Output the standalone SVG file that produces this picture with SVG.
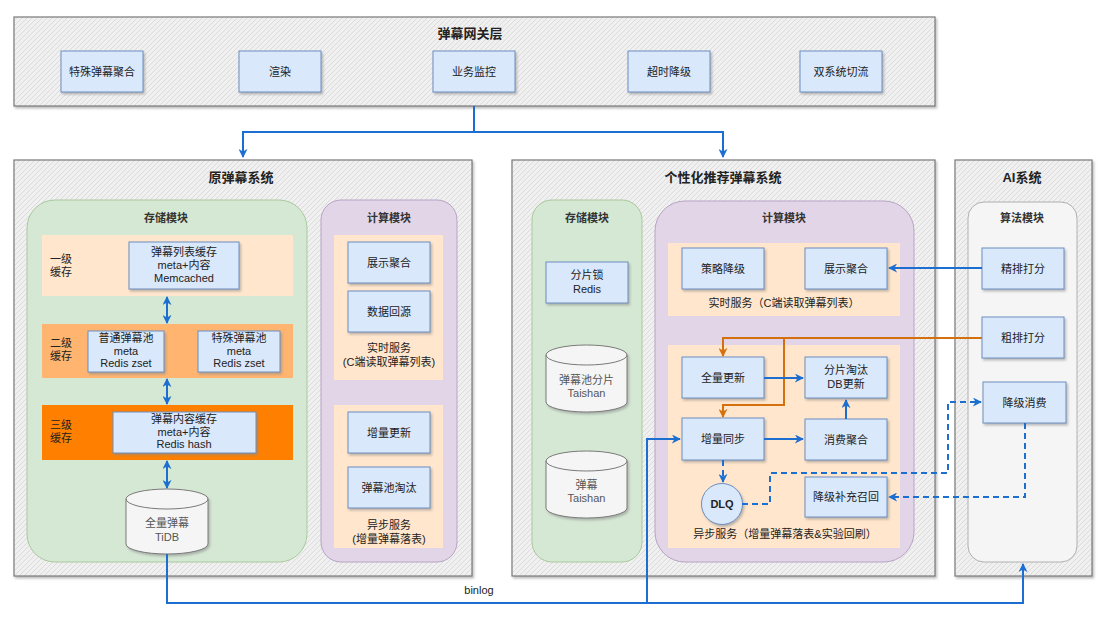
<svg xmlns="http://www.w3.org/2000/svg" width="1116" height="635" viewBox="0 0 1116 635">
<defs>
<pattern id="hatch" patternUnits="userSpaceOnUse" width="5" height="5">
<rect width="5" height="5" fill="#F0F0F0"/>
<path d="M-1,1 l2,-2 M0,5 l5,-5 M4,6 l2,-2" stroke="#D6D6D6" stroke-width="0.8"/>
</pattern>
<filter id="sh" x="-10%" y="-10%" width="130%" height="130%">
<feDropShadow dx="1.5" dy="2" stdDeviation="0.8" flood-color="#888" flood-opacity="0.55"/>
</filter>
<marker id="ab" viewBox="0 0 10 10" refX="9" refY="5" markerWidth="9" markerHeight="9" markerUnits="userSpaceOnUse" orient="auto-start-reverse">
<path d="M0,0 L10,5 L0,10 L3,5 z" fill="#1C6FD1"/>
</marker>
<marker id="ao" viewBox="0 0 10 10" refX="9" refY="5" markerWidth="9" markerHeight="9" markerUnits="userSpaceOnUse" orient="auto">
<path d="M0,0 L10,5 L0,10 L3,5 z" fill="#D5700F"/>
</marker>
<style>
text{font-family:"Liberation Sans","Noto Sans CJK SC",sans-serif;fill:#222;text-anchor:middle}
.t{font-size:13px;font-weight:bold}
.m{font-size:11px;font-weight:bold;fill:#333}
.l{font-size:11px}
.g{fill:#555}
.frame{fill:url(#hatch);stroke:#7A7A7A;stroke-width:1.2;filter:url(#sh)}
.box{fill:#DAE8FC;stroke:#6C8EBF;stroke-width:1;filter:url(#sh)}
.green{fill:#D5E8D4;stroke:#A9C89C;stroke-width:1}
.purple{fill:#E1D5E7;stroke:#B7A3C4;stroke-width:1}
.ai{fill:#F5F5F5;stroke:#B0B0B0;stroke-width:1}
.band1{fill:#FFE6CC}
.band2{fill:#FFB570}
.band3{fill:#FF8000}
.cyl{fill:#F5F5F5;stroke:#7A7A7A;stroke-width:1;filter:url(#sh)}
.cb{fill:none;stroke:#1C6FD1;stroke-width:2}
.co{fill:none;stroke:#D5700F;stroke-width:2}
.dash{stroke-dasharray:6 4}
</style>
</defs>

<!-- Gateway layer -->
<g id="gateway">
<rect class="frame" x="14" y="17" width="921" height="89"/>
<text class="t" x="470" y="38">弹幕网关层</text>
</g>
<g id="gw-special"><rect class="box" x="61" y="51" width="82" height="41"/><text class="l" x="102" y="75.5">特殊弹幕聚合</text></g>
<g id="gw-render"><rect class="box" x="239" y="51" width="82" height="41"/><text class="l" x="280" y="75.5">渲染</text></g>
<g id="gw-monitor"><rect class="box" x="433" y="51" width="82" height="41"/><text class="l" x="474" y="75.5">业务监控</text></g>
<g id="gw-timeout"><rect class="box" x="628" y="51" width="82" height="41"/><text class="l" x="669" y="75.5">超时降级</text></g>
<g id="gw-switch"><rect class="box" x="800" y="51" width="82" height="41"/><text class="l" x="841" y="75.5">双系统切流</text></g>

<!-- Original system -->
<g id="orig-system">
<rect class="frame" x="14" y="160" width="458" height="416"/>
<text class="t" x="241" y="182">原弹幕系统</text>
</g>
<g id="orig-storage">
<rect class="green" x="27" y="200" width="280" height="362" rx="28"/>
<text class="m" x="166" y="222">存储模块</text>
<rect class="band1" x="42" y="235" width="251" height="61"/>
<text class="l" x="61" y="263">一级</text><text class="l" x="61" y="276">缓存</text>
<rect class="band2" x="42" y="324" width="251" height="54"/>
<text class="l" x="61" y="347">二级</text><text class="l" x="61" y="360">缓存</text>
<rect class="band3" x="42" y="405" width="251" height="55"/>
<text class="l" x="61" y="429">三级</text><text class="l" x="61" y="442">缓存</text>
</g>
<g id="l1-cache"><rect class="box" x="129" y="242" width="110" height="47"/>
<text class="l" x="184" y="256">弹幕列表缓存</text><text class="l" x="184" y="269">meta+内容</text><text class="l" x="184" y="282">Memcached</text></g>
<g id="l2-normal"><rect class="box" x="88" y="331" width="76" height="41"/>
<text class="l" x="126" y="342">普通弹幕池</text><text class="l" x="126" y="355">meta</text><text class="l" x="126" y="367">Redis zset</text></g>
<g id="l2-special"><rect class="box" x="198" y="331" width="82" height="41"/>
<text class="l" x="239" y="342">特殊弹幕池</text><text class="l" x="239" y="355">meta</text><text class="l" x="239" y="367">Redis zset</text></g>
<g id="l3-content"><rect class="box" x="113" y="412" width="143" height="41"/>
<text class="l" x="184" y="423">弹幕内容缓存</text><text class="l" x="184" y="436">meta+内容</text><text class="l" x="184" y="448">Redis hash</text></g>
<g id="tidb">
<path class="cyl" d="M126,499 a41,10 0 0 1 82,0 V544 a41,10 0 0 1 -82,0 Z"/>
<path d="M126,499 a41,10 0 0 0 82,0" fill="none" stroke="#7A7A7A"/>
<text class="l g" x="167" y="527">全量弹幕</text><text class="l g" x="167" y="541">TiDB</text>
</g>
<g id="orig-compute">
<rect class="purple" x="321" y="200" width="136" height="362" rx="20"/>
<text class="m" x="389" y="222">计算模块</text>
<rect class="band1" x="334" y="235" width="109" height="145"/>
<text class="l" x="389" y="352">实时服务</text>
<text class="l" x="389" y="366">(C端读取弹幕列表)</text>
<rect class="band1" x="334" y="405" width="109" height="143"/>
<text class="l" x="389" y="529">异步服务</text>
<text class="l" x="389" y="543">(增量弹幕落表)</text>
</g>
<g id="o-show"><rect class="box" x="348" y="242" width="82" height="41"/><text class="l" x="389" y="266.5">展示聚合</text></g>
<g id="o-source"><rect class="box" x="348" y="291" width="82" height="41"/><text class="l" x="389" y="315.5">数据回源</text></g>
<g id="o-incr"><rect class="box" x="348" y="412" width="82" height="41"/><text class="l" x="389" y="436.5">增量更新</text></g>
<g id="o-evict"><rect class="box" x="348" y="467" width="82" height="41"/><text class="l" x="389" y="491.5">弹幕池淘汰</text></g>

<!-- Personalized system -->
<g id="pers-system">
<rect class="frame" x="512" y="160" width="423" height="416"/>
<text class="t" x="723" y="182">个性化推荐弹幕系统</text>
</g>
<g id="pers-storage">
<rect class="green" x="532" y="200" width="110" height="362" rx="20"/>
<text class="m" x="587" y="222">存储模块</text>
</g>
<g id="p-lock"><rect class="box" x="546" y="262" width="82" height="41"/>
<text class="l" x="587" y="279">分片锁</text><text class="l" x="587" y="293">Redis</text></g>
<g id="p-pool">
<path class="cyl" d="M546,355 a40.5,10 0 0 1 81,0 V402 a40.5,10 0 0 1 -81,0 Z"/>
<path d="M546,355 a40.5,10 0 0 0 81,0" fill="none" stroke="#7A7A7A"/>
<text class="l g" x="586.5" y="384">弹幕池分片</text><text class="l g" x="586.5" y="397">Taishan</text>
</g>
<g id="p-danmu">
<path class="cyl" d="M546,461 a40.5,10 0 0 1 81,0 V508 a40.5,10 0 0 1 -81,0 Z"/>
<path d="M546,461 a40.5,10 0 0 0 81,0" fill="none" stroke="#7A7A7A"/>
<text class="l g" x="586.5" y="489">弹幕</text><text class="l g" x="586.5" y="502">Taishan</text>
</g>
<g id="pers-compute">
<rect class="purple" x="655" y="201" width="259" height="361" rx="30"/>
<text class="m" x="784" y="222">计算模块</text>
<rect class="band1" x="668" y="243" width="232" height="73"/>
<text class="l" x="784" y="307">实时服务（C端读取弹幕列表）</text>
<rect class="band1" x="668" y="345" width="232" height="203"/>
<text class="l" x="785" y="538">异步服务（增量弹幕落表&amp;实验回刷）</text>
</g>
<g id="p-strategy"><rect class="box" x="682" y="248" width="82" height="41"/><text class="l" x="723" y="272.5">策略降级</text></g>
<g id="p-show"><rect class="box" x="805" y="248" width="82" height="41"/><text class="l" x="846" y="272.5">展示聚合</text></g>
<g id="p-full"><rect class="box" x="682" y="357" width="82" height="41"/><text class="l" x="723" y="381.5">全量更新</text></g>
<g id="p-shard"><rect class="box" x="805" y="357" width="82" height="41"/>
<text class="l" x="846" y="374">分片淘汰</text><text class="l" x="846" y="388">DB更新</text></g>
<g id="p-sync"><rect class="box" x="682" y="418" width="82" height="42"/><text class="l" x="723" y="443">增量同步</text></g>
<g id="p-consume"><rect class="box" x="805" y="419" width="82" height="41"/><text class="l" x="846" y="443.5">消费聚合</text></g>
<g id="p-dlq"><circle cx="722" cy="504" r="20.5" fill="#DAE8FC" stroke="#6C8EBF" filter="url(#sh)"/><text class="l" x="722" y="508" style="font-weight:bold">DLQ</text></g>
<g id="p-recall"><rect class="box" x="805" y="477" width="82" height="40"/><text class="l" x="846" y="501">降级补充召回</text></g>

<!-- AI system -->
<g id="ai-system">
<rect class="frame" x="955" y="160" width="137" height="416"/>
<text class="t" x="1022" y="182">AI系统</text>
</g>
<g id="ai-algo">
<rect class="ai" x="968" y="202" width="109" height="360" rx="16"/>
<text class="m" x="1022" y="222">算法模块</text>
</g>
<g id="ai-fine"><rect class="box" x="982" y="248" width="82" height="41"/><text class="l" x="1023" y="272.5">精排打分</text></g>
<g id="ai-coarse"><rect class="box" x="982" y="317" width="82" height="41"/><text class="l" x="1023" y="341.5">粗排打分</text></g>
<g id="ai-degrade"><rect class="box" x="983" y="382" width="83" height="41"/><text class="l" x="1024.5" y="406.5">降级消费</text></g>

<!-- Connectors -->
<g id="connectors">
<path class="cb" d="M474,106 V132 H243 V157" marker-end="url(#ab)"/>
<path class="cb" d="M474,132 H723 V157" marker-end="url(#ab)"/>
<path class="cb" d="M167,297 V323" marker-start="url(#ab)" marker-end="url(#ab)"/>
<path class="cb" d="M167,379 V404" marker-start="url(#ab)" marker-end="url(#ab)"/>
<path class="cb" d="M167,461 V488" marker-start="url(#ab)" marker-end="url(#ab)"/>
<path class="cb" d="M982,268 H889" marker-end="url(#ab)"/>
<path class="co" d="M982,338 H723 V356" marker-end="url(#ao)"/>
<path class="co" d="M784,338 V405 H723 V417" marker-end="url(#ao)"/>
<path class="cb" d="M764,378 H803" marker-end="url(#ab)"/>
<path class="cb" d="M764,439 H803" marker-end="url(#ab)"/>
<path class="cb" d="M846,419 V400" marker-end="url(#ab)"/>
<path class="cb dash" d="M723,460 V482" marker-end="url(#ab)"/>
<path class="cb dash" d="M742,504 H770 V473 H948 V402 H981" marker-end="url(#ab)"/>
<path class="cb dash" d="M1025,423 V497 H889" marker-end="url(#ab)"/>
<path class="cb" d="M167,554 V603 H1023 V564" marker-end="url(#ab)"/>
<path class="cb" d="M647,603 V439 H680" marker-end="url(#ab)"/>
<text class="l" x="479" y="594">binlog</text>
</g>
</svg>
